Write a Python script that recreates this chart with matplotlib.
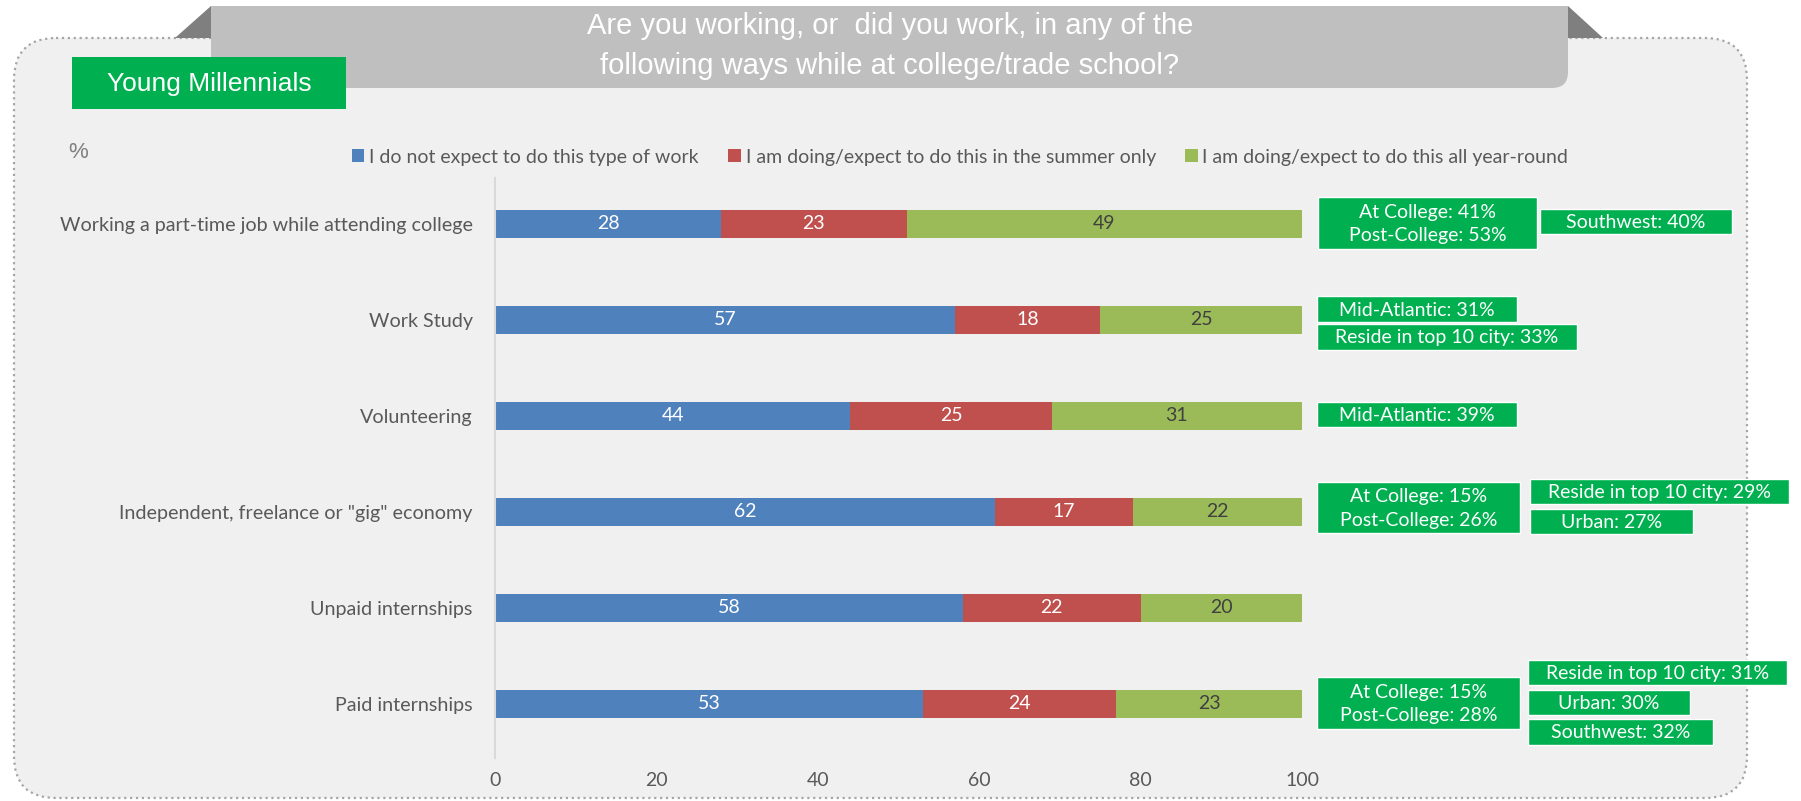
import matplotlib.pyplot as plt
from matplotlib.patches import FancyBboxPatch, Rectangle, Polygon, PathPatch
from matplotlib.path import Path

categories = ['Working a part-time job while attending college', 'Work Study', 'Volunteering',
              'Independent, freelance or "gig" economy', 'Unpaid internships', 'Paid internships']
not_expect = [28, 57, 44, 62, 58, 53]
summer_only = [23, 18, 25, 17, 22, 24]
year_round = [49, 25, 31, 22, 20, 23]
series_names = ['I do not expect to do this type of work',
                'I am doing/expect to do this in the summer only',
                'I am doing/expect to do this all year-round']
x_ticks = [0, 20, 40, 60, 80, 100]

title = 'Are you working, or  did you work, in any of the\nfollowing ways while at college/trade school?'
segment = 'Young Millennials'

# green callouts on the right and their boxes in pixels (left, top, right, bottom)
callout_text = ['At College: 41%\nPost-College: 53%', 'Southwest: 40%',
                'Mid-Atlantic: 31%', 'Reside in top 10 city: 33%',
                'Mid-Atlantic: 39%',
                'At College: 15%\nPost-College: 26%', 'Reside in top 10 city: 29%', 'Urban: 27%',
                'At College: 15%\nPost-College: 28%', 'Reside in top 10 city: 31%', 'Urban: 30%',
                'Southwest: 32%']
callout_box = [(1318, 197, 1537, 249), (1540, 209, 1732, 234),
               (1317, 296, 1517, 322), (1317, 324, 1577, 350),
               (1317, 402, 1517, 427),
               (1317, 482, 1520, 533), (1530, 479, 1789, 504), (1530, 509, 1693, 534),
               (1317, 677, 1520, 729), (1528, 660, 1787, 685), (1528, 690, 1690, 715),
               (1528, 719, 1713, 745)]

BLUE, RED, GREEN = '#4f81bd', '#c0504d', '#9bbb59'
GRAY_TXT = '#595959'
CAL = ['Lato', 'DejaVu Sans']
NARROW = ['Liberation Sans Narrow', 'Liberation Sans', 'DejaVu Sans']
plt.rcParams['font.family'] = CAL

W, H = 1801, 801
fig = plt.figure(figsize=(W / 100, H / 100), dpi=100)

# background layer in pixel coordinates
bg = fig.add_axes([0, 0, 1, 1], zorder=0)
bg.set_xlim(0, W)
bg.set_ylim(H, 0)
bg.axis('off')

panel = FancyBboxPatch((14, 38), 1747 - 14, 798 - 38, boxstyle='round,pad=0,rounding_size=42',
                       facecolor='#f0f0f0', edgecolor='#a6a6a6', linewidth=1.6, linestyle=':')
bg.add_patch(panel)

# title banner with rounded lower-right corner
bl, bt, br, bb, r = 211, 6, 1568, 88, 16
verts = [(bl, bt), (br, bt), (br, bb - r), (br, bb), (br - r, bb), (bl, bb), (bl, bt)]
codes = [Path.MOVETO, Path.LINETO, Path.LINETO, Path.CURVE3, Path.CURVE3, Path.LINETO, Path.CLOSEPOLY]
bg.add_patch(PathPatch(Path(verts, codes), facecolor='#bfbfbf', edgecolor='none'))
bg.add_patch(Polygon([(bl, bt), (bl, 38), (175, 38)], closed=True, facecolor='#7f7f7f', edgecolor='none'))
bg.add_patch(Polygon([(br, bt), (br, 38), (1603, 38)], closed=True, facecolor='#7f7f7f', edgecolor='none'))
bg.text(890, 46, title, ha='center', va='center', color='white', fontsize=21,
        family=NARROW, linespacing=1.5)

bg.add_patch(Rectangle((72, 57), 274, 52, facecolor='#00b050', edgecolor='none'))
bg.text(209, 84, segment, ha='center', va='center', color='white', fontsize=19, family=NARROW)

bg.text(78, 153, '%', ha='center', va='center', color='#7f7f7f', fontsize=16, family=NARROW)

for txt, (x0, y0, x1, y1) in zip(callout_text, callout_box):
    bg.add_patch(Rectangle((x0, y0), x1 - x0, y1 - y0, facecolor='#00b050',
                           edgecolor='white', linewidth=1))
    bg.text((x0 + x1) / 2, (y0 + y1) / 2 + 1, txt, ha='center', va='center',
            color='white', fontsize=14, linespacing=1.45)

# stacked bar chart
ax = fig.add_axes([495 / W, 1 - 758 / H, (1302 - 495) / W, (758 - 178) / H], zorder=1)
ax.patch.set_alpha(0)
y = list(range(len(categories)))
left2 = [a + b for a, b in zip(not_expect, summer_only)]
series = [(not_expect, [0] * len(y), BLUE, 'white'),
          (summer_only, not_expect, RED, 'white'),
          (year_round, left2, GREEN, '#404040')]
for (vals, left, col, tcol), name in zip(series, series_names):
    bars = ax.barh(y, vals, left=left, height=0.3, color=col, label=name)
    ax.bar_label(bars, labels=[str(v) for v in vals], label_type='center',
                 color=tcol, fontsize=14)

ax.set_xlim(0, 100)
ax.set_ylim(5.5625, -0.479)
ax.set_xticks(x_ticks)
ax.set_yticks(y, categories)
ax.tick_params(axis='x', length=0, pad=10, labelsize=14, labelcolor=GRAY_TXT)
ax.tick_params(axis='y', length=0, pad=16, labelsize=14.2, labelcolor=GRAY_TXT)
for s in ['top', 'right', 'bottom']:
    ax.spines[s].set_visible(False)
ax.spines['left'].set_color('#d9d9d9')
ax.spines['left'].set_linewidth(1.5)

fig.legend(loc='center', bbox_to_anchor=(960 / W, 1 - 157 / H), ncol=3, frameon=False,
           handlelength=0.65, handleheight=0.65, handletextpad=0.25, columnspacing=1.5,
           fontsize=14, labelcolor=GRAY_TXT)

fig.savefig('out.png', dpi=100)
